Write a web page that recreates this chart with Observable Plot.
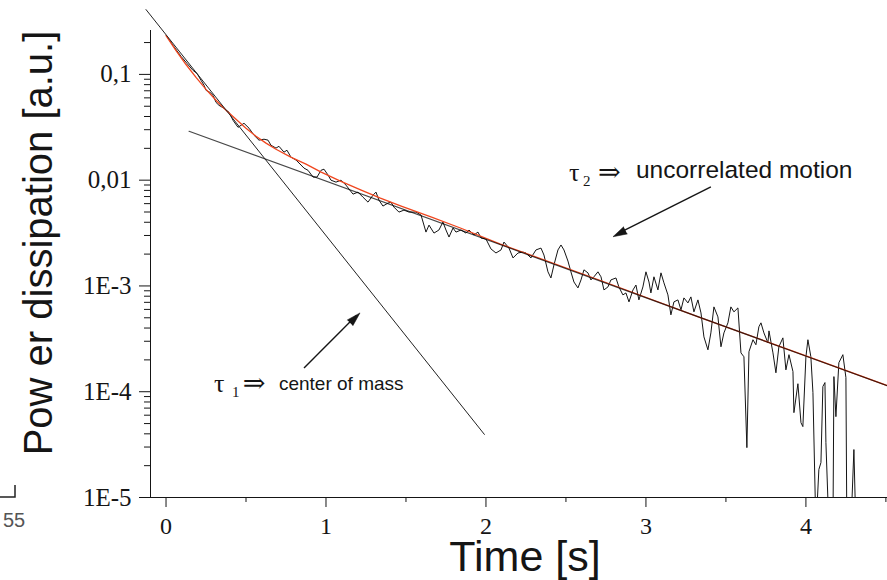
<!DOCTYPE html>
<html><head><meta charset="utf-8">
<script src="https://cdn.jsdelivr.net/npm/d3@7"></script>
<script src="https://cdn.jsdelivr.net/npm/@observablehq/plot@0.6"></script>
<style>body{margin:0;background:#fff;} #chart{position:relative;width:887px;height:580px;}</style>
</head><body><div id="chart"></div>
<script>
// measured power dissipation (black noisy trace)
const blackTime = [0.006,0.044,0.094,0.131,0.169,0.194,0.219,0.238,0.25,0.275,0.294,0.3125,0.331,0.3625,0.394,0.419,0.45,0.4875,0.519,0.55,
0.581,0.6125,0.6375,0.656,0.6875,0.706,0.7375,0.756,0.781,0.8125,0.844,0.8625,0.8875,0.919,0.944,0.969,0.9875,1.0125,1.031,1.0625,
1.094,1.125,1.169,1.2,1.231,1.2625,1.294,1.3125,1.331,1.356,1.3875,1.406,1.425,1.456,1.4875,1.519,1.5625,1.594,1.625,1.644,
1.675,1.706,1.731,1.75,1.769,1.794,1.8125,1.844,1.875,1.894,1.925,1.95,1.969,2.0,2.031,2.0625,2.094,2.1125,2.144,2.169,
2.2,2.231,2.25,2.281,2.3125,2.344,2.3625,2.3875,2.406,2.425,2.45,2.469,2.4875,2.5125,2.531,2.55,2.575,2.594,2.6125,2.6375,
2.656,2.675,2.7,2.719,2.7375,2.7625,2.781,2.8125,2.831,2.856,2.875,2.894,2.919,2.9375,2.956,2.981,3.0,3.019,3.031,3.05,
3.075,3.094,3.1125,3.1375,3.156,3.175,3.2,3.219,3.2375,3.2625,3.281,3.3,3.325,3.344,3.3625,3.3875,3.406,3.425,3.45,3.469,
3.4875,3.5125,3.531,3.55,3.575,3.594,3.6125,3.631,3.644,3.669,3.6875,3.706,3.719,3.7375,3.7625,3.769,3.794,3.8125,3.831,3.856,
3.875,3.894,3.919,3.925,3.95,3.969,3.981,4.0,4.0125,4.031,4.044,4.0625,4.081,4.094,4.106,4.119,4.125,4.144,4.169,4.175,
4.1875,4.206,4.231,4.25,4.256,4.281,4.3,4.3125];
const blackPower = [0.228,0.188,0.148,0.127,0.109,0.102,0.0878,0.0788,0.0707,0.0676,0.0634,0.0544,0.0510,0.0478,0.0438,0.0368,0.0316,0.0345,0.0310,0.0266,
0.0239,0.0244,0.0239,0.0214,0.0201,0.0209,0.0184,0.0192,0.0165,0.0155,0.0139,0.0130,0.0124,0.0107,0.0107,0.0124,0.0127,0.0112,0.0100,0.00958,
0.0100,0.00897,0.00738,0.00771,0.00691,0.00620,0.00722,0.00771,0.00648,0.00569,0.00607,0.00620,0.00556,0.00499,0.00521,0.00499,0.00499,0.00468,0.00323,0.00376,
0.00316,0.00338,0.00402,0.00338,0.00290,0.00353,0.00323,0.00338,0.00316,0.00338,0.00303,0.00323,0.00284,0.00278,0.00224,0.00205,0.00219,0.00260,0.00228,0.00184,
0.00205,0.00209,0.00205,0.00184,0.00219,0.00228,0.00196,0.00136,0.00119,0.00158,0.00219,0.00244,0.00219,0.00172,0.00136,0.00109,0.000958,0.00114,0.00142,0.00133,
0.00114,0.00122,0.00136,0.00122,0.000917,0.000979,0.00114,0.00119,0.000979,0.000823,0.000859,0.000707,0.000917,0.00102,0.000738,0.000979,0.00136,0.00109,0.000859,0.00122,
0.000917,0.00133,0.00107,0.000823,0.000533,0.000707,0.000738,0.000594,0.000771,0.000691,0.000788,0.000569,0.000738,0.000556,0.000330,0.000249,0.000360,0.000634,0.000510,0.000266,
0.000360,0.000448,0.000634,0.000569,0.000620,0.000233,0.000214,0.0000296,0.000239,0.000310,0.000278,0.000411,0.000448,0.000360,0.000290,0.000376,0.000233,0.000151,0.000266,0.000323,
0.000161,0.000224,0.000155,0.0000634,0.000119,0.0000510,0.0000468,0.000214,0.000310,0.000214,0.0000979,0.000005,0.0000184,0.0000214,0.000112,0.000122,0.0000330,0.000005,0.000005,0.000139,
0.0000581,0.000188,0.000224,0.000136,0.000005,0.000005,0.0000284,0.000005];

// two-exponential fit (red curve)
const fitTime = [0,0.0625,0.125,0.1875,0.25,0.3125,0.375,0.4375,0.5,0.5625,0.625,0.6875,0.78,0.875,0.97,1.09,1.22,1.34,1.47,1.66,1.84,2.09,2.72,3.34,3.97,4.51];
const fitPower = [0.233,0.168,0.124,0.0937,0.0722,0.0569,0.0458,0.0376,0.0310,0.0260,0.0224,0.0196,0.0165,0.0142,0.0119,0.00979,0.00805,0.00676,0.00569,0.00448,0.00353,0.00249,0.00112,0.000501,0.000227,0.000114];

// single-exponential asymptotes
const tau1Time = [-0.125, 1.99];
const tau1Power = [0.410, 0.0000395];
const tau2Time = [0.144, 4.5125];
const tau2Power = [0.0290, 0.0001135];

// ticks
const xMajorTicks = [0, 1, 2, 3, 4];
const xMinorTicks = [0.5, 1.5, 2.5, 3.5, 4.5];
const yMajorTicks = [1e-5, 1e-4, 1e-3, 0.01, 0.1];
const yTickLabels = ["1E-5", "1E-4", "1E-3", "0,01", "0,1"];
const yMinorFactors = [2, 3, 4, 5, 6, 7, 8, 9];

const xDomain = [-0.097, 4.51];
const yDomain = [1e-5, 0.26];

const black = blackTime.map((t, i) => ({t, p: blackPower[i]}));
const fit = fitTime.map((t, i) => ({t, p: fitPower[i]}));
const tau1 = tau1Time.map((t, i) => ({t, p: tau1Power[i]}));
const tau2 = tau2Time.map((t, i) => ({t, p: tau2Power[i]}));
const yMinorTicks = yMajorTicks.flatMap(d => yMinorFactors.map(k => +(d * k).toPrecision(3))).filter(v => v <= yDomain[1]);

const sans = "'Liberation Sans', Arial, Helvetica, sans-serif";
const serif = "'Liberation Serif', 'Times New Roman', Times, serif";
const ink = "#151515";

function label(t, p, s, opts) {
  return Plot.text([{t, p, s}], {x: "t", y: "p", text: "s", textAnchor: "start", lineAnchor: "middle", fill: ink, ...opts});
}

const chart = Plot.plot({
  width: 887, height: 580,
  marginLeft: 150, marginRight: 0, marginTop: 30, marginBottom: 83,
  style: {background: "#fff", color: ink, overflow: "visible"},
  x: {domain: xDomain},
  y: {type: "log", domain: yDomain},
  marks: [
    Plot.axisX({ticks: xMinorTicks, tickSize: 5, tickFormat: () => "", label: null}),
    Plot.axisX({ticks: xMajorTicks, tickSize: 10, tickPadding: 9, fontSize: 24, fontFamily: serif, tickFormat: d => String(d), label: null}),
    Plot.axisY({ticks: yMinorTicks, tickSize: 6, tickFormat: () => "", label: null}),
    Plot.axisY({ticks: yMajorTicks, tickSize: 11, tickPadding: 8, fontSize: 25, fontFamily: serif, tickFormat: d => yTickLabels[yMajorTicks.indexOf(d)], label: null}),
    Plot.ruleX([xDomain[0]], {stroke: ink}),
    Plot.ruleY([yDomain[0]], {stroke: ink}),
    Plot.line(black, {x: "t", y: "p", stroke: ink, strokeWidth: 1, clip: true}),
    Plot.line(fit, {x: "t", y: "p", stroke: "#f0461e", strokeWidth: 1.3}),
    Plot.line(tau2, {x: "t", y: "p", stroke: "#000", strokeOpacity: 0.72, strokeWidth: 1.2}),
    Plot.line(tau1, {x: "t", y: "p", stroke: "#222", strokeWidth: 1}),
    // arrows
    Plot.link([{x1: 0.8625, y1: 0.000168, x2: 1.19, y2: 0.000525}], {x1: "x1", y1: "y1", x2: "x2", y2: "y2", stroke: ink, strokeWidth: 1.4}),
    Plot.vector([{t: 1.2125, p: 0.000556}], {x: "t", y: "p", rotate: 45, length: 14, r: 4, anchor: "end", shape: "spike", fill: ink, stroke: ink, strokeWidth: 0.5}),
    Plot.link([{x1: 3.406, y1: 0.00865, x2: 2.83, y2: 0.00315}], {x1: "x1", y1: "y1", x2: "x2", y2: "y2", stroke: ink, strokeWidth: 1.4}),
    Plot.vector([{t: 2.794, p: 0.00292}], {x: "t", y: "p", rotate: 243, length: 14, r: 4, anchor: "end", shape: "spike", fill: ink, stroke: ink, strokeWidth: 0.5}),
    // annotation texts
    label(0.30, 0.000119, "τ", {fontSize: 26, fontFamily: serif}),
    label(0.4125, 0.0001, "1", {fontSize: 15, fontFamily: serif}),
    label(0.48, 0.000119, "⇒", {fontSize: 27, fontFamily: "'DejaVu Serif', serif"}),
    label(0.706, 0.000119, "center of mass", {fontSize: 19, fontFamily: sans}),
    label(2.519, 0.0119, "τ", {fontSize: 26, fontFamily: serif}),
    label(2.606, 0.0098, "2", {fontSize: 15, fontFamily: serif}),
    label(2.70, 0.0119, "⇒", {fontSize: 27, fontFamily: "'DejaVu Serif', serif"}),
    label(2.9375, 0.0124, "uncorrelated motion", {fontSize: 24.5, fontFamily: sans}),
    // axis titles
    Plot.text(["Time [s]"], {frameAnchor: "bottom", text: d => d, dx: 6, dy: 60, fontSize: 43, fontFamily: sans, textAnchor: "middle", lineAnchor: "middle", fill: ink}),
    Plot.text(["Pow er dissipation [a.u.]"], {frameAnchor: "left", text: d => d, dx: -111, dy: -21, rotate: -90, fontSize: 40, fontFamily: sans, textAnchor: "middle", lineAnchor: "middle", fill: ink})
  ]
});
document.getElementById("chart").appendChild(chart);

// page-edge crop marks visible at the bottom-left of the scan
const svg = d3.select(chart);
svg.append("path").attr("d", "M0,497H15V485").attr("fill", "none").attr("stroke", "#222").attr("stroke-width", 1.5);
svg.append("text").attr("x", 3).attr("y", 527).attr("text-anchor", "start").attr("font-family", sans).attr("font-size", 20).attr("fill", "#555").text("55");
</script>
</body></html>
